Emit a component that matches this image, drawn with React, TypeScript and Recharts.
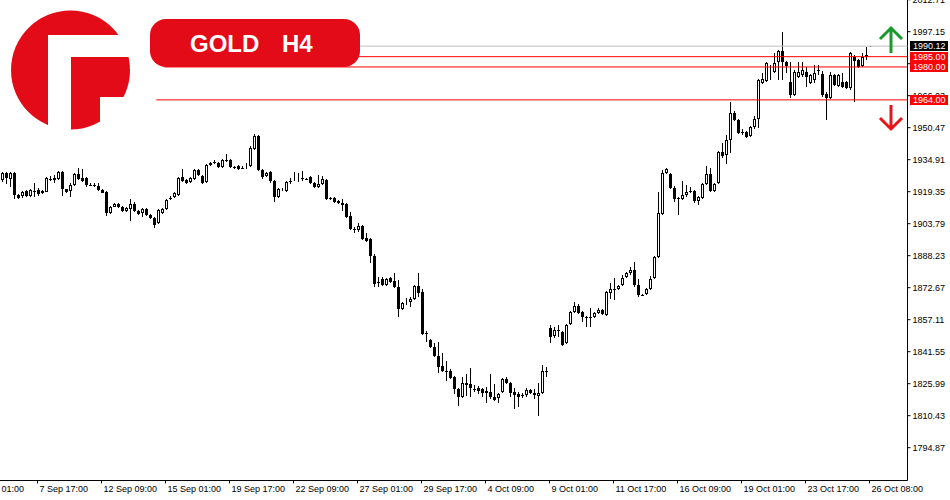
import React from 'react';
import { ComposedChart, Bar, XAxis, YAxis, ReferenceLine } from 'recharts';

// GOLD H4 candles, 5 Sep - 26 Oct (one entry per 4h bar)
const opens = [
  1925.0, 1928.4, 1925.7, 1928.6, 1917.6, 1917.4, 1919.7, 1917.4, 1919.9, 1920.2,
  1918.6, 1919.4, 1925.4, 1925.9, 1925.4, 1929.1, 1920.5, 1919.8, 1922.6, 1928.0,
  1926.0, 1926.0, 1922.6, 1922.4, 1922.1, 1920.2, 1919.2, 1909.1, 1912.1, 1913.4,
  1911.8, 1910.1, 1910.9, 1913.4, 1910.1, 1908.9, 1910.8, 1908.0, 1906.6, 1904.1,
  1908.9, 1910.9, 1916.1, 1916.7, 1917.7, 1926.5, 1925.0, 1924.1, 1925.5, 1929.9,
  1927.0, 1924.1, 1932.3, 1933.7, 1933.3, 1931.4, 1934.8, 1934.8, 1931.4, 1931.8,
  1930.9, 1931.1, 1931.8, 1940.1, 1946.4, 1929.9, 1926.9, 1928.9, 1924.6, 1916.8,
  1920.4, 1919.8, 1924.4, 1925.2, 1925.7, 1925.9, 1925.5, 1926.4, 1923.7, 1921.8,
  1923.1, 1925.0, 1916.1, 1916.1, 1915.0, 1914.0, 1913.4, 1907.5, 1901.0, 1900.7,
  1902.7, 1896.7, 1896.2, 1888.1, 1875.3, 1876.8, 1874.0, 1877.2, 1876.1, 1872.9,
  1862.2, 1865.9, 1865.9, 1867.0, 1873.5, 1870.7, 1850.4, 1847.2, 1844.0, 1839.5,
  1834.6, 1832.1, 1832.3, 1829.1, 1823.3, 1819.4, 1825.4, 1825.9, 1823.4, 1824.1,
  1823.3, 1822.6, 1822.1, 1819.7, 1818.9, 1822.1, 1828.1, 1826.5, 1822.1, 1821.0,
  1820.4, 1820.5, 1822.9, 1821.6, 1820.0, 1821.6, 1832.1, 1852.9, 1849.2, 1851.9,
  1851.3, 1845.6, 1855.0, 1861.0, 1863.8, 1861.0, 1858.2, 1858.3, 1858.3, 1860.2,
  1861.8, 1859.4, 1870.2, 1871.8, 1871.9, 1874.0, 1877.7, 1880.0, 1881.3, 1874.0,
  1869.1, 1869.6, 1871.9, 1877.2, 1887.7, 1908.5, 1928.6, 1927.9, 1921.0, 1916.1,
  1915.7, 1917.7, 1919.7, 1919.8, 1915.0, 1916.1, 1923.1, 1928.0, 1919.8, 1923.4,
  1938.8, 1937.2, 1944.5, 1957.8, 1954.2, 1948.5, 1948.5, 1946.4, 1950.7, 1954.6,
  1972.3, 1973.3, 1977.7, 1977.7, 1982.6, 1987.9, 1982.6, 1972.8, 1966.4, 1975.3,
  1976.1, 1977.7, 1972.4, 1973.7, 1978.4, 1976.6, 1966.9, 1964.8, 1976.1, 1970.7,
  1972.8, 1972.8, 1969.6, 1984.7, 1983.4, 1980.5, 1985.0, 1989.8,
];

const highs = [
  1928.9, 1928.9, 1929.1, 1929.0, 1918.1, 1919.8, 1920.2, 1920.5, 1923.4, 1921.0,
  1920.3, 1926.3, 1927.1, 1927.5, 1929.6, 1929.6, 1920.9, 1923.4, 1928.4, 1930.7,
  1930.2, 1926.5, 1923.4, 1923.7, 1923.4, 1920.7, 1919.7, 1912.2, 1914.0, 1913.9,
  1912.4, 1911.8, 1915.7, 1914.5, 1910.6, 1911.3, 1911.2, 1908.5, 1907.0, 1911.0,
  1911.5, 1915.8, 1917.2, 1919.2, 1926.5, 1930.4, 1925.5, 1926.6, 1930.4, 1930.4,
  1927.5, 1932.8, 1934.0, 1934.7, 1934.0, 1935.3, 1937.7, 1935.3, 1932.0, 1932.4,
  1931.6, 1933.3, 1941.6, 1947.4, 1946.9, 1930.4, 1929.1, 1929.4, 1925.0, 1921.2,
  1921.2, 1924.7, 1925.9, 1929.1, 1928.6, 1929.6, 1926.0, 1926.9, 1924.2, 1927.5,
  1927.0, 1925.5, 1916.8, 1916.6, 1915.4, 1915.7, 1913.9, 1909.6, 1902.0, 1904.3,
  1903.2, 1899.1, 1896.7, 1889.1, 1878.0, 1877.7, 1877.3, 1877.9, 1879.7, 1876.4,
  1865.9, 1867.5, 1868.3, 1874.0, 1879.7, 1871.9, 1851.5, 1847.7, 1845.6, 1846.4,
  1841.1, 1837.2, 1833.3, 1829.6, 1823.8, 1829.1, 1830.7, 1833.5, 1825.4, 1824.9,
  1824.0, 1824.2, 1830.7, 1825.8, 1821.5, 1828.6, 1829.4, 1827.0, 1823.8, 1822.1,
  1821.3, 1823.8, 1823.4, 1823.3, 1826.2, 1835.1, 1834.3, 1854.5, 1853.4, 1854.5,
  1851.8, 1855.0, 1861.5, 1865.9, 1864.7, 1861.5, 1858.8, 1862.7, 1860.7, 1862.7,
  1862.3, 1871.2, 1874.8, 1877.2, 1874.0, 1878.8, 1880.5, 1882.9, 1885.3, 1876.8,
  1869.6, 1872.4, 1878.4, 1888.2, 1919.4, 1929.9, 1930.7, 1928.4, 1922.1, 1916.9,
  1924.7, 1922.6, 1921.8, 1920.3, 1917.4, 1923.6, 1931.8, 1930.7, 1923.6, 1939.3,
  1942.9, 1946.9, 1963.1, 1958.6, 1954.7, 1949.8, 1949.0, 1951.2, 1956.2, 1974.2,
  1977.2, 1982.6, 1981.0, 1986.6, 1988.4, 1997.2, 1983.1, 1982.6, 1978.5, 1982.6,
  1982.6, 1979.8, 1976.6, 1980.9, 1980.9, 1978.2, 1968.0, 1977.7, 1976.6, 1976.6,
  1976.9, 1973.3, 1987.4, 1985.8, 1983.9, 1986.6, 1989.9, 1990.3,
];

const lows = [
  1924.1, 1923.1, 1921.6, 1915.7, 1915.7, 1916.4, 1916.9, 1917.0, 1916.9, 1917.4,
  1918.2, 1919.0, 1924.6, 1923.4, 1925.0, 1917.4, 1918.5, 1916.9, 1922.2, 1925.2,
  1924.0, 1921.8, 1921.9, 1921.5, 1919.9, 1918.5, 1907.7, 1908.6, 1911.8, 1911.3,
  1909.6, 1909.7, 1905.3, 1909.6, 1908.0, 1907.2, 1907.5, 1906.0, 1901.7, 1903.5,
  1908.4, 1910.5, 1915.3, 1916.2, 1917.2, 1924.0, 1923.0, 1923.5, 1925.0, 1926.9,
  1923.0, 1923.4, 1931.8, 1933.0, 1930.9, 1930.9, 1934.0, 1930.9, 1930.6, 1929.9,
  1930.2, 1930.6, 1931.3, 1939.7, 1929.4, 1925.5, 1926.4, 1923.4, 1914.5, 1916.3,
  1919.9, 1919.3, 1923.1, 1924.6, 1924.1, 1924.7, 1924.8, 1923.2, 1921.0, 1921.3,
  1922.6, 1915.2, 1915.4, 1914.0, 1913.2, 1910.1, 1906.7, 1900.6, 1899.4, 1899.9,
  1895.7, 1895.0, 1884.8, 1872.9, 1872.9, 1873.5, 1873.5, 1875.1, 1872.7, 1858.3,
  1861.7, 1864.3, 1863.4, 1866.5, 1868.0, 1849.7, 1846.4, 1843.2, 1839.0, 1831.3,
  1831.8, 1827.5, 1828.1, 1821.0, 1815.2, 1818.9, 1820.0, 1819.7, 1822.1, 1821.0,
  1819.7, 1816.8, 1818.4, 1817.6, 1816.8, 1821.6, 1826.0, 1819.7, 1813.5, 1814.8,
  1818.9, 1819.7, 1820.8, 1818.4, 1810.3, 1821.1, 1829.4, 1845.6, 1848.1, 1848.8,
  1844.5, 1845.1, 1854.5, 1860.5, 1860.0, 1856.1, 1853.4, 1853.7, 1857.8, 1859.7,
  1859.4, 1858.9, 1867.0, 1866.7, 1871.4, 1873.5, 1877.2, 1878.8, 1873.2, 1868.3,
  1868.6, 1869.1, 1871.4, 1876.8, 1887.0, 1908.0, 1928.1, 1920.5, 1914.5, 1908.0,
  1915.2, 1916.6, 1918.9, 1913.7, 1912.9, 1915.6, 1922.6, 1919.3, 1919.3, 1922.9,
  1935.6, 1932.8, 1938.3, 1953.5, 1947.5, 1946.9, 1945.3, 1945.9, 1949.7, 1950.2,
  1971.8, 1972.8, 1973.7, 1977.2, 1973.7, 1973.7, 1976.9, 1964.8, 1965.9, 1974.8,
  1975.3, 1970.4, 1971.9, 1972.4, 1976.1, 1965.5, 1954.2, 1964.3, 1970.7, 1970.2,
  1969.9, 1969.1, 1968.8, 1963.1, 1979.6, 1980.0, 1983.4, 1989.7,
];

const closes = [
  1928.3, 1926.0, 1928.6, 1917.7, 1916.1, 1919.4, 1917.4, 1920.2, 1919.6, 1918.2,
  1919.8, 1925.9, 1925.6, 1925.0, 1928.8, 1920.5, 1919.1, 1922.6, 1928.0, 1925.7,
  1924.7, 1922.6, 1922.4, 1922.2, 1920.2, 1918.9, 1909.1, 1911.8, 1913.4, 1911.8,
  1910.1, 1911.3, 1913.4, 1910.1, 1908.5, 1910.8, 1908.0, 1906.6, 1903.2, 1910.5,
  1910.9, 1915.3, 1916.4, 1918.7, 1926.0, 1924.5, 1923.6, 1926.0, 1929.9, 1927.5,
  1923.6, 1932.3, 1933.5, 1933.8, 1931.4, 1934.8, 1934.6, 1931.4, 1931.2, 1930.4,
  1930.7, 1931.3, 1940.6, 1946.4, 1929.9, 1926.5, 1928.6, 1924.6, 1916.8, 1920.7,
  1920.6, 1924.2, 1924.6, 1925.5, 1925.9, 1926.0, 1925.3, 1923.7, 1921.5, 1923.1,
  1925.4, 1915.7, 1915.9, 1914.5, 1913.7, 1912.9, 1907.2, 1901.1, 1901.2, 1902.7,
  1896.2, 1895.5, 1888.1, 1874.5, 1875.1, 1874.0, 1876.8, 1875.6, 1873.2, 1862.2,
  1865.4, 1866.1, 1867.0, 1873.5, 1870.2, 1850.2, 1850.2, 1843.7, 1839.5, 1834.3,
  1832.3, 1832.4, 1828.6, 1823.3, 1819.7, 1826.2, 1826.5, 1823.8, 1823.2, 1822.6,
  1821.6, 1821.6, 1819.4, 1818.1, 1821.0, 1828.1, 1826.5, 1821.6, 1820.5, 1819.4,
  1820.6, 1822.9, 1821.3, 1820.5, 1821.3, 1832.3, 1832.4, 1848.8, 1852.1, 1851.8,
  1844.8, 1854.5, 1861.0, 1863.8, 1860.5, 1858.3, 1858.3, 1858.4, 1860.2, 1861.8,
  1859.9, 1870.7, 1871.9, 1871.9, 1873.5, 1877.2, 1880.0, 1881.3, 1874.0, 1869.1,
  1869.3, 1871.9, 1876.8, 1887.7, 1908.8, 1928.3, 1930.2, 1921.0, 1915.7, 1916.2,
  1917.7, 1919.4, 1919.9, 1915.0, 1916.9, 1923.1, 1928.0, 1919.8, 1923.1, 1938.8,
  1936.7, 1944.5, 1957.8, 1954.2, 1948.0, 1947.9, 1945.8, 1950.7, 1954.6, 1973.7,
  1974.0, 1982.1, 1977.9, 1982.1, 1987.9, 1982.6, 1980.5, 1966.4, 1977.7, 1977.7,
  1978.5, 1975.0, 1976.1, 1976.9, 1978.6, 1966.4, 1964.8, 1976.1, 1971.2, 1976.1,
  1970.4, 1969.6, 1986.9, 1983.1, 1980.1, 1985.0, 1986.0, 1990.1,
];

const timeLabels = [
  '5 Sep 01:00', '7 Sep 17:00', '12 Sep 09:00', '15 Sep 01:00', '19 Sep 17:00',
  '22 Sep 09:00', '27 Sep 01:00', '29 Sep 17:00', '4 Oct 09:00', '9 Oct 01:00',
  '11 Oct 17:00', '16 Oct 09:00', '19 Oct 01:00', '23 Oct 17:00', '26 Oct 08:00',
];

const priceTicks = [
  1794.87, 1810.43, 1825.99, 1841.55, 1857.11, 1872.67, 1888.23, 1903.79,
  1919.35, 1934.91, 1950.47, 1966.03, 1981.59, 1997.15, 2012.71,
];

const levels = [1985.0, 1980.0, 1964.0];
const bidPrice = 1990.12;

// slot layout: 7 empty bars before the first candle, 9 empty after (chart shift)
const LEAD = 7;
const SLOTS = 234;
const TICK_EVERY = 16;
const tickSlots = timeLabels.map((_, i) => i * TICK_EVERY);
const PRICE_DOMAIN: [number, number] = [1778.92, 2014.99];

const rows = Array.from({ length: SLOTS }, (_, slot) => {
  const k = slot - LEAD;
  if (k < 0 || k >= opens.length) return { slot };
  return { slot, o: opens[k], h: highs[k], l: lows[k], c: closes[k], range: [lows[k], highs[k]] };
});

const FONT = '"Liberation Sans", Arial, sans-serif';
const RED = '#ff0000';
const BRAND = '#e30b17';
const CHART_W = 991;
const CHART_H = 521;

const Candle = (props: any) => {
  const { x, y, width, height, payload } = props;
  if (!payload || payload.o == null || height == null) return null;
  const top = Math.min(y, y + height);
  const span = Math.abs(height);
  const { o, h, l, c } = payload;
  const toY = (v: number) => top + ((h - v) / (h - l)) * span;
  const cx = Math.round(x + width / 2 - 0.5) + 0.5;
  const yo = Math.round(toY(o));
  const yc = Math.round(toY(c));
  const bt = Math.min(yo, yc);
  const bb = Math.max(yo, yc);
  let body;
  if (bb - bt < 1) {
    body = <line x1={cx - 1.5} x2={cx + 1.5} y1={bt + 0.5} y2={bt + 0.5} stroke="#000" />;
  } else if (c > o) {
    body = <rect x={cx - 1} y={bt + 0.5} width={2} height={Math.max(bb - bt - 1, 0)} fill="#fff" stroke="#000" />;
  } else {
    body = <rect x={cx - 1.5} y={bt} width={3} height={bb - bt} fill="#000" />;
  }
  return (
    <g>
      <line x1={cx} x2={cx} y1={Math.round(toY(h))} y2={Math.round(toY(l))} stroke="#000" />
      {body}
    </g>
  );
};

const TimeTick = (props: any) => {
  const { x, y, payload } = props;
  const label = timeLabels[tickSlots.indexOf(payload.value)];
  return (
    <text x={x + 2} y={y} dy="0.71em" textAnchor="start" fontSize={9} fontFamily={FONT} fill="#000">
      {label}
    </text>
  );
};

const PriceTag = (props: any) => {
  const { viewBox, value, bg } = props;
  if (!viewBox) return null;
  const left = Math.floor(viewBox.x + viewBox.width) + 3;
  const cy = Math.round(viewBox.y);
  return (
    <g>
      <rect x={left} y={cy - 5} width={38} height={10} fill={bg} />
      <text x={left + 3} y={cy} dy="0.35em" fontSize={9} fontFamily={FONT} fill="#fff">
        {value.toFixed(2)}
      </text>
    </g>
  );
};

const Overlay = () => (
  <svg width={950} height={500} style={{ position: 'absolute', left: 0, top: 0, pointerEvents: 'none' }}>
    <defs>
      <mask id="logoCut">
        <rect x={0} y={0} width={140} height={140} fill="#fff" />
        <rect x={48} y={35} width={23} height={100} fill="#000" />
        <rect x={48} y={35} width={90} height={22} fill="#000" />
        <rect x={100} y={97} width={40} height={40} fill="#000" />
      </mask>
    </defs>
    <circle cx={70.5} cy={70} r={59.5} fill={BRAND} mask="url(#logoCut)" />
    <rect x={150} y={19} width={210} height={48} rx={16} fill={BRAND} />
    <text x={190} y={52} fontSize={24} fontWeight={700} fontFamily={FONT} fill="#fff">GOLD</text>
    <text x={282} y={52} fontSize={24} fontWeight={700} fontFamily={FONT} fill="#fff">H4</text>
    <path d="M891 53 L891 29 M880 39 L891 28 L902 39" stroke="#1a9a2c" strokeWidth={3} fill="none" />
    <path d="M891 105 L891 129 M880 118 L891 129 L902 118" stroke="#e8141c" strokeWidth={3} fill="none" />
  </svg>
);

export default function App() {
  return (
    <div style={{ position: 'absolute', left: 0, top: 0, width: 950, height: 500, overflow: 'hidden', background: '#fff' }}>
      <div style={{ position: 'absolute', left: -40, top: -20 }}>
        <ComposedChart
          width={CHART_W}
          height={CHART_H}
          data={rows}
          margin={{ top: 15, right: 0.5, bottom: 0.5, left: 11.5 }}
        >
          <XAxis
            dataKey="slot"
            type="category"
            ticks={tickSlots}
            interval={0}
            tickSize={3}
            height={20}
            axisLine={{ stroke: '#000' }}
            tickLine={{ stroke: '#000' }}
            tick={<TimeTick />}
          />
          <YAxis
            orientation="right"
            type="number"
            domain={PRICE_DOMAIN}
            allowDataOverflow
            ticks={priceTicks}
            interval={0}
            width={43}
            tickSize={3}
            axisLine={{ stroke: '#000' }}
            tickLine={{ stroke: '#000' }}
            tickFormatter={(v: number) => v.toFixed(2)}
            tick={{ fontSize: 9, fill: '#000', fontFamily: FONT }}
          />
          <Bar dataKey="range" barSize={3} shape={<Candle />} isAnimationActive={false} />
        </ComposedChart>
      </div>
      {/* same scales, drawn on top so the level tags cover the axis labels */}
      <div style={{ position: 'absolute', left: -40, top: -20 }}>
        <ComposedChart
          width={CHART_W}
          height={CHART_H}
          data={rows}
          margin={{ top: 15, right: 43.5, bottom: 20.5, left: 11.5 }}
        >
          <XAxis dataKey="slot" type="category" hide />
          <YAxis type="number" domain={PRICE_DOMAIN} allowDataOverflow hide />
          <ReferenceLine
            segment={[{ x: 48, y: bidPrice }, { x: SLOTS - 1, y: bidPrice }]}
            position="end"
            stroke="#c0c0c0"
            label={(p: any) => <PriceTag {...p} value={bidPrice} bg="#000" />}
          />
          {levels.map((lv, i) => (
            <ReferenceLine
              key={lv}
              segment={[{ x: i === 2 ? 46 : 48, y: lv }, { x: SLOTS - 1, y: lv }]}
              position="end"
              stroke={RED}
              label={(p: any) => <PriceTag {...p} value={lv} bg={RED} />}
            />
          ))}
        </ComposedChart>
      </div>
      <Overlay />
    </div>
  );
}
